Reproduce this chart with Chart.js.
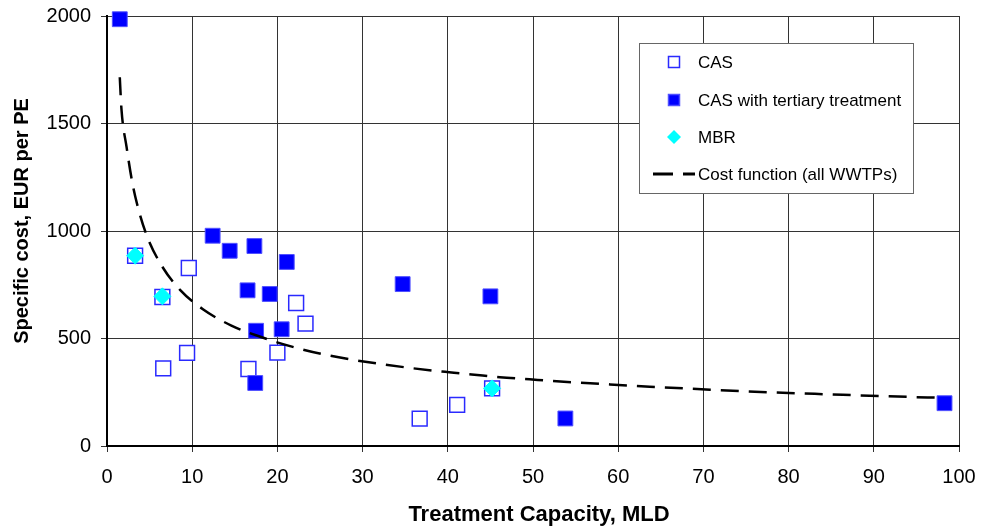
<!DOCTYPE html>
<html>
<head>
<meta charset="utf-8">
<script src="https://cdn.jsdelivr.net/npm/chart.js@4.4.1/dist/chart.umd.min.js"></script>
<style>
  html, body { margin: 0; padding: 0; background: #fff; }
  #wrap { width: 981px; height: 527px; }
</style>
</head>
<body>
<div id="wrap"><canvas id="costChart" width="981" height="527"></canvas></div>
<script>
// values
const casX = [9.6, 3.3, 6.5, 22.2, 23.3, 9.4, 6.6, 16.6, 20.0, 41.1, 36.7, 45.2];
const casY = [828, 885, 693, 665, 569, 433, 361, 358, 434, 191, 127, 268];

const tertX = [1.5, 12.4, 14.4, 17.3, 21.1, 16.5, 19.1, 17.5, 20.5, 17.4, 34.7, 45.0, 53.8, 98.3];
const tertY = [1985, 978, 908, 930, 856, 724, 707, 536, 543, 293, 753, 696, 128, 199];

const mbrX = [3.3, 6.5, 45.2];
const mbrY = [885, 696, 268];

const costX = [1.5, 1.7, 2.3, 2.9, 3.5, 4.7, 6.4, 8.6, 11.3, 14.6, 18, 21.7, 25.2, 28.4, 32.2, 35.8, 39.3, 42.8, 46.1, 49.6, 53.2, 56.7, 63.7, 70.8, 77.8, 84.9, 91.7, 98.1];
const costY = [1715, 1565, 1390, 1240, 1130, 975, 840, 725, 635, 560, 508, 462, 428, 404, 381, 362, 346, 333, 320, 310, 300, 292, 276, 262, 250, 240, 231, 224];

const xTicks = [0, 10, 20, 30, 40, 50, 60, 70, 80, 90, 100];
const yTicks = [0, 500, 1000, 1500, 2000];

const xTitle = "Treatment Capacity, MLD";
const yTitle = "Specific cost, EUR per PE";

const FONT = "'Liberation Sans', Arial, sans-serif";

function toPoints(xs, ys) {
    return xs.map((x, i) => ({ x: x, y: ys[i] }));
}

// axis titles, placed where the original has them
const axisTitles = {
    id: "axisTitles",
    afterDraw(chart) {
        const ctx = chart.ctx;
        ctx.save();
        ctx.fillStyle = "#000";
        ctx.font = "bold 22px " + FONT;
        ctx.textAlign = "center";
        ctx.textBaseline = "alphabetic";
        ctx.fillText(xTitle, 539, 521);

        ctx.font = "bold 20px " + FONT;
        ctx.translate(28, 221);
        ctx.rotate(-Math.PI / 2);
        ctx.fillText(yTitle, 0, 0);
        ctx.restore();
    }
};

// legend box drawn inside the plot, like the original
const boxLegend = {
    id: "boxLegend",
    afterDraw(chart) {
        const ctx = chart.ctx;
        const left = 639, top = 43, w = 274, h = 150;
        ctx.save();
        ctx.fillStyle = "#fff";
        ctx.fillRect(left, top, w, h);
        ctx.strokeStyle = "#666";
        ctx.lineWidth = 1;
        ctx.strokeRect(left + 0.5, top + 0.5, w, h);

        const rows = [62, 100, 137, 174];
        const mx = 674;
        ctx.font = "17px " + FONT;
        ctx.textBaseline = "middle";
        ctx.fillStyle = "#000";
        chart.data.datasets.forEach((ds, i) => {
            const y = rows[i];
            ctx.save();
            if (ds.type === "line") {
                ctx.strokeStyle = ds.borderColor;
                ctx.lineWidth = 3;
                ctx.setLineDash([20, 10]);
                ctx.beginPath();
                ctx.moveTo(653, y);
                ctx.lineTo(695, y);
                ctx.stroke();
            } else if (ds.pointStyle === "rectRot") {
                ctx.fillStyle = ds.backgroundColor;
                ctx.beginPath();
                ctx.moveTo(mx, y - 7);
                ctx.lineTo(mx + 7, y);
                ctx.lineTo(mx, y + 7);
                ctx.lineTo(mx - 7, y);
                ctx.closePath();
                ctx.fill();
            } else {
                ctx.fillStyle = ds.backgroundColor;
                ctx.fillRect(mx - 6, y - 6, 12, 12);
                ctx.strokeStyle = ds.borderColor;
                ctx.lineWidth = 1.5;
                ctx.strokeRect(mx - 5.5, y - 5.5, 11, 11);
            }
            ctx.restore();
            ctx.fillText(ds.label, 698, y + 1);
        });
        ctx.restore();
    }
};

const ctx = document.getElementById("costChart").getContext("2d");
new Chart(ctx, {
    type: "scatter",
    data: {
        datasets: [
            {
                label: "CAS",
                data: toPoints(casX, casY),
                pointStyle: "rect",
                pointRadius: 10.5,
                backgroundColor: "#ffffff",
                borderColor: "#2a2aff",
                borderWidth: 1.5,
                clip: false,
                order: 3
            },
            {
                label: "CAS with tertiary treatment",
                data: toPoints(tertX, tertY),
                pointStyle: "rect",
                pointRadius: 10.5,
                backgroundColor: "#0000ff",
                borderColor: "#5050ff",
                borderWidth: 1,
                clip: false,
                order: 2
            },
            {
                label: "MBR",
                data: toPoints(mbrX, mbrY),
                pointStyle: "rectRot",
                pointRadius: 8.5,
                backgroundColor: "#00ffff",
                borderColor: "#00ffff",
                borderWidth: 1,
                clip: false,
                order: 1
            },
            {
                type: "line",
                label: "Cost function (all WWTPs)",
                data: toPoints(costX, costY),
                borderColor: "#000",
                borderWidth: 2.5,
                borderDash: [18, 10],
                pointRadius: 0,
                fill: false,
                cubicInterpolationMode: "monotone",
                order: 0
            }
        ]
    },
    options: {
        responsive: false,
        animation: false,
        layout: { padding: { top: 16, right: 22, left: 0, bottom: 0 } },
        plugins: {
            legend: { display: false },
            tooltip: { enabled: false }
        },
        scales: {
            x: {
                type: "linear",
                min: 0,
                max: 100,
                afterFit: (scale) => {
                    scale.height = 81;
                    scale.paddingLeft = 0;
                    scale.paddingRight = 0;
                },
                afterBuildTicks: (scale) => { scale.ticks = xTicks.map(v => ({ value: v })); },
                ticks: { color: "#000", padding: 13, font: { family: FONT, size: 20 } },
                grid: { color: "#333", lineWidth: 1, tickLength: 6 },
                border: { color: "#000", width: 2 }
            },
            y: {
                type: "linear",
                min: 0,
                max: 2000,
                afterFit: (scale) => {
                    scale.width = 107;
                    scale.paddingTop = 0;
                    scale.paddingBottom = 0;
                },
                afterBuildTicks: (scale) => { scale.ticks = yTicks.map(v => ({ value: v })); },
                ticks: {
                    color: "#000",
                    padding: 10,
                    font: { family: FONT, size: 20 },
                    callback: (v) => String(v)
                },
                grid: { color: "#333", lineWidth: 1, tickLength: 6 },
                border: { color: "#000", width: 2 }
            }
        }
    },
    plugins: [axisTitles, boxLegend]
});
</script>
</body>
</html>
